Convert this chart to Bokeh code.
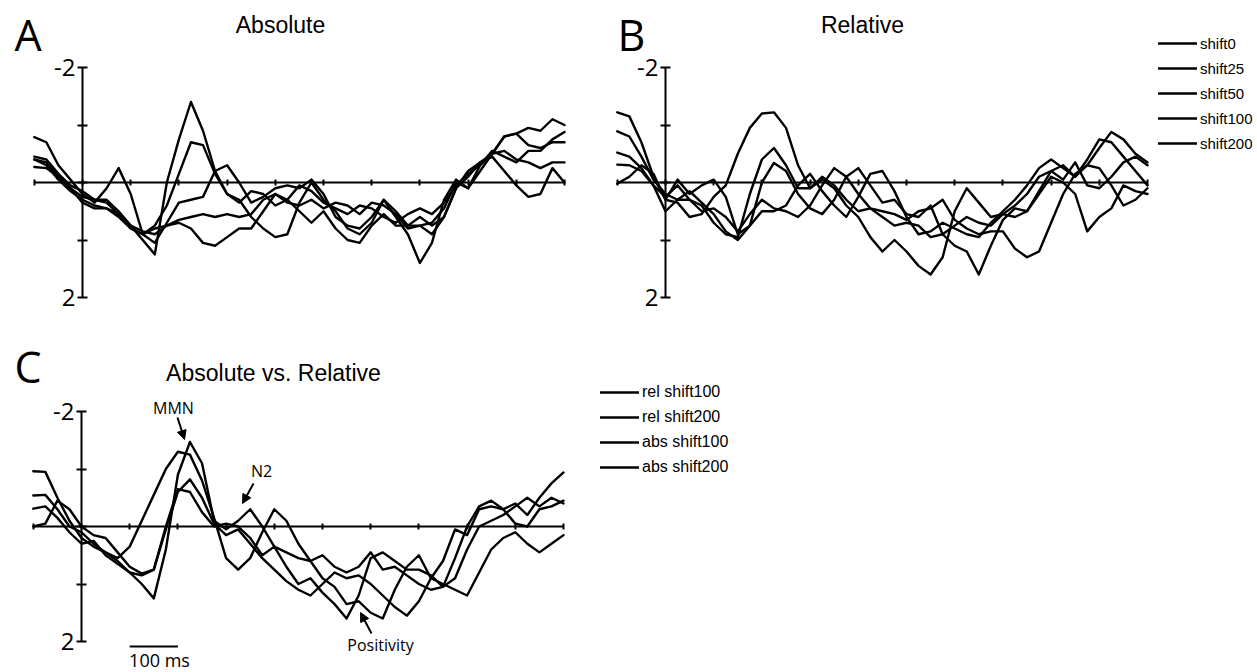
from bokeh.plotting import figure
from bokeh.models import (Range1d, LinearAxis, FixedTicker, Label, Arrow, NormalHead,
                          Legend, LegendItem, ColumnDataSource)
from bokeh.layouts import column, row
from bokeh.embed import file_html
from bokeh.resources import INLINE

# ---------------- data (µV, negative plotted upward) ----------------
time_ms = list(range(-100, 1001, 25))
time_ticks = list(range(-100, 1001, 100))
uv_ticks = [-2, -1, 0, 1, 2]

# Panel A: Absolute
abs_shift200 = [-0.45, -0.40, -0.15, 0.05, 0.15, 0.30, 0.30, 0.50, 0.75, 1.00,
                1.25, 0.00, -0.75, -1.40, -0.90, -0.20, 0.20, 0.30, 0.60, 0.80,
                0.95, 0.90, 0.35, 0.00, 0.30, 0.50, 0.80, 0.90, 0.70, 0.30,
                0.60, 0.90, 1.40, 1.05, 0.30, -0.05, 0.10, -0.30, -0.50, -0.80,
                -0.85, -0.95, -0.90, -1.10, -1.00]
abs_shift100 = [-0.27, -0.25, -0.10, 0.10, 0.25, 0.30, 0.35, 0.55, 0.80, 0.90,
                0.75, 0.40, -0.15, -0.70, -0.65, -0.15, 0.20, 0.35, 0.15, 0.20,
                0.40, 0.30, 0.05, 0.15, 0.35, 0.45, 0.55, 0.40, 0.45, 0.60,
                0.70, 0.55, 0.45, 0.55, 0.35, 0.05, -0.15, -0.30, -0.55, -0.45,
                -0.35, -0.55, -0.55, -0.75, -0.88]
abs_shift50 = [-0.79, -0.70, -0.30, -0.05, 0.20, 0.35, 0.10, -0.25, 0.20, 0.90,
               1.05, 0.70, 0.35, 0.30, 0.25, -0.20, -0.30, 0.00, 0.35, 0.25,
               0.10, 0.05, 0.10, -0.05, 0.20, 0.60, 0.75, 0.80, 0.60, 0.30,
               0.50, 0.75, 0.75, 0.90, 0.60, 0.10, -0.20, -0.35, -0.50, -0.80,
               -0.85, -0.65, -0.60, -0.70, -0.70]
abs_shift25 = [-0.40, -0.35, -0.10, 0.10, 0.35, 0.45, 0.45, 0.55, 0.75, 0.85,
               0.90, 0.75, 0.65, 0.60, 0.55, 0.60, 0.55, 0.60, 0.55, 0.30,
               0.20, 0.35, 0.40, 0.30, 0.45, 0.35, 0.40, 0.55, 0.35, 0.40,
               0.55, 0.80, 0.75, 0.70, 0.45, 0.00, 0.10, -0.20, -0.50, -0.55,
               -0.40, -0.35, -0.25, -0.35, -0.35]
abs_shift0 = [-0.40, -0.30, -0.05, 0.15, 0.30, 0.40, 0.45, 0.60, 0.80, 0.90,
              0.80, 0.75, 0.70, 0.80, 1.05, 1.10, 0.95, 0.80, 0.80, 0.50,
              0.20, 0.30, 0.50, 0.70, 0.50, 0.80, 1.00, 1.05, 0.75, 0.55,
              0.75, 0.75, 0.60, 0.75, 0.60, 0.10, -0.10, -0.35, -0.45, -0.20,
              0.05, 0.25, 0.20, -0.25, 0.00]

# Panel B: Relative
rel_shift200 = [-1.22, -1.15, -0.70, -0.10, 0.30, 0.35, 0.60, 0.55, 0.25, 0.05,
                -0.50, -0.95, -1.20, -1.22, -0.95, -0.30, 0.10, -0.05, 0.10, 0.40,
                0.60, 0.95, 1.20, 1.00, 1.20, 1.45, 1.60, 1.30, 0.50, 0.10,
                0.35, 0.60, 0.55, 0.60, 0.50, 0.15, -0.20, -0.30, -0.10, -0.30,
                -0.60, -0.88, -0.75, -0.50, -0.35]
rel_shift100 = [-0.89, -0.80, -0.45, -0.05, 0.20, 0.30, 0.30, 0.40, 0.70, 0.90,
                0.95, 0.20, -0.40, -0.60, -0.30, 0.10, 0.10, -0.10, 0.05, 0.30,
                0.50, 0.45, 0.60, 0.75, 0.70, 0.75, 0.95, 0.90, 0.75, 0.60,
                0.70, 0.75, 0.55, 0.40, 0.20, -0.10, -0.20, -0.05, -0.35, 0.05,
                0.10, -0.10, -0.35, -0.45, -0.30]
rel_shift50 = [-0.52, -0.45, -0.25, 0.05, 0.50, 0.30, 0.15, 0.35, 0.55, 0.85,
               1.00, 0.75, 0.00, -0.34, -0.20, 0.20, 0.45, 0.55, 0.30, -0.10,
               -0.25, 0.05, 0.35, 0.30, 0.55, 0.60, 0.40, 0.90, 1.10, 1.20,
               1.60, 1.10, 0.65, 0.45, 0.50, 0.20, -0.10, 0.00, 0.20, 0.85,
               0.60, 0.45, 0.05, 0.15, 0.20]
rel_shift25 = [-0.31, -0.30, -0.20, 0.05, 0.25, 0.05, 0.30, 0.50, 0.45, 0.60,
               0.85, 0.55, 0.30, 0.45, 0.50, 0.60, 0.40, 0.05, -0.25, -0.10,
               0.20, 0.45, 0.50, 0.55, 0.65, 0.50, 0.45, 0.30, 0.65, 0.80,
               0.90, 0.85, 0.85, 1.15, 1.30, 1.20, 0.70, 0.20, -0.15, -0.30,
               -0.25, 0.05, 0.40, 0.30, 0.10]
rel_shift0 = [0.02, -0.10, -0.30, -0.15, 0.30, -0.05, 0.20, 0.05, -0.05, 0.25,
              0.90, 0.75, 0.50, 0.50, 0.40, 0.05, -0.15, 0.15, 0.40, 0.60,
              0.25, -0.15, -0.20, 0.15, 0.60, 0.90, 0.85, 0.70, 0.80, 0.90,
              0.95, 0.70, 0.50, 0.30, 0.05, -0.25, -0.40, -0.25, -0.10, -0.40,
              -0.75, -0.70, -0.45, -0.20, 0.05]

# Panel C: Absolute vs. Relative
c_rel_shift200 = [-0.96, -0.95, -0.50, -0.10, 0.20, 0.35, 0.45, 0.55, 0.35, -0.10,
                  -0.55, -1.00, -1.30, -1.25, -0.80, -0.15, 0.55, 0.75, 0.55, 0.10,
                  -0.30, -0.10, 0.30, 0.60, 0.90, 1.05, 1.35, 1.30, 1.50, 1.60,
                  1.10, 0.70, 0.50, 0.90, 1.00, 1.10, 1.20, 0.80, 0.40, 0.20,
                  0.10, 0.30, 0.45, 0.30, 0.15]
c_abs_shift200 = [-0.54, -0.55, -0.30, 0.00, 0.10, 0.30, 0.45, 0.60, 0.80, 1.00,
                  1.25, 0.40, -0.90, -1.47, -1.10, -0.10, 0.05, -0.10, -0.30, 0.00,
                  0.35, 0.70, 1.00, 0.90, 1.15, 1.35, 1.60, 1.20, 0.55, 0.45,
                  0.60, 0.75, 0.75, 0.85, 1.05, 0.90, 0.40, 0.00, -0.10, -0.20,
                  -0.35, -0.50, -0.35, -0.50, -0.40]
c_abs_shift100 = [-0.31, -0.35, -0.15, 0.10, 0.30, 0.25, 0.50, 0.65, 0.80, 0.85,
                  0.75, 0.05, -0.60, -0.82, -0.50, -0.05, 0.15, 0.05, 0.30, 0.55,
                  0.75, 0.95, 1.10, 1.20, 1.00, 0.80, 0.90, 0.85, 1.00, 1.20,
                  1.40, 1.55, 1.30, 0.90, 0.60, 0.05, 0.15, -0.30, -0.35, -0.30,
                  -0.40, -0.20, -0.50, -0.75, -0.94]
c_rel_shift100 = [0.00, -0.05, -0.45, -0.30, 0.00, 0.15, 0.20, 0.45, 0.70, 0.82,
                  0.75, 0.00, -0.65, -0.60, -0.25, 0.00, -0.05, 0.00, 0.20, 0.50,
                  0.35, 0.45, 0.55, 0.60, 0.50, 0.70, 0.80, 0.70, 0.45, 0.75,
                  0.70, 0.85, 1.00, 1.10, 1.05, 0.55, 0.00, -0.35, -0.45, -0.30,
                  -0.05, 0.00, -0.30, -0.35, -0.45]

legend_b_labels = ["shift0", "shift25", "shift50", "shift100", "shift200"]
legend_c_labels = ["rel shift100", "rel shift200", "abs shift100", "abs shift200"]
scale_bar_ms = [100, 200]

# ---------------- layout constants ----------------
PX_MS = 0.482   # pixels per ms
PX_UV = 57.5    # pixels per µV
LW = 2.4
BASE_K = 0.44   # anchor offset (em) so that a label's baseline lands on target
TOP_H = 330     # height of the A/B row


class Panel:
    """x0/y0: page pixel of (0 ms, 0 µV); ox/oy: page offset of the figure."""
    def __init__(self, width, height, ox, oy, x0, y0):
        self.ox, self.oy = ox, oy
        self.x0, self.y0 = x0 - ox, y0 - oy
        p = figure(width=width, height=height, output_backend="svg", toolbar_location=None,
                   x_axis_location=None, y_axis_location=None, min_border=0,
                   x_range=Range1d(-self.x0 / PX_MS, (width - self.x0) / PX_MS),
                   y_range=Range1d((height - self.y0) / PX_UV, -self.y0 / PX_UV),
                   outline_line_color=None, background_fill_color="white",
                   border_fill_color="white")
        p.grid.visible = False
        xa = LinearAxis(fixed_location=0, bounds=(-100, 1000),
                        ticker=FixedTicker(ticks=time_ticks),
                        major_label_overrides={t: "" for t in time_ticks},
                        major_label_text_font_size="1px",
                        axis_line_width=2, major_tick_line_width=2,
                        major_tick_in=3, major_tick_out=3)
        p.add_layout(xa, "below")
        ya = LinearAxis(fixed_location=0, bounds=(-2, 2),
                        ticker=FixedTicker(ticks=uv_ticks),
                        major_label_overrides={-2: "-2", -1: "", 0: "", 1: "", 2: "2"},
                        axis_line_width=2, major_tick_line_width=2,
                        major_tick_in=5, major_tick_out=5,
                        major_label_standoff=2,
                        major_label_text_font="Open Sans",
                        major_label_text_font_size="24px",
                        major_label_text_color="black")
        p.add_layout(ya, "left")
        self.p = p

    def dx(self, px):
        return (px - self.ox - self.x0) / PX_MS

    def dy(self, py):
        return (py - self.oy - self.y0) / PX_UV

    def text(self, px, py_base, txt, font, size_px, align="left"):
        py = py_base - BASE_K * size_px
        self.p.add_layout(Label(x=self.dx(px), y=self.dy(py), text=txt, text_font=font,
                                text_font_size=f"{size_px}px", text_align=align,
                                text_baseline="alphabetic", text_color="black"))

    def arrow(self, sx, sy, ex, ey):
        self.p.add_layout(Arrow(end=NormalHead(size=9, fill_color="black", line_color="black"),
                                x_start=self.dx(sx), y_start=self.dy(sy),
                                x_end=self.dx(ex), y_end=self.dy(ey),
                                line_width=2, line_color="black"))


def make_legend(items, loc, size):
    return Legend(items=items, location=loc, orientation="vertical",
                  glyph_width=39, glyph_height=20, label_height=20, spacing=5,
                  padding=5, margin=0, label_standoff=3,
                  border_line_color=None, background_fill_alpha=0,
                  label_text_font="Liberation Sans", label_text_font_size=size,
                  label_text_color="black")


def draw_lines(panel, src, cols):
    return {c: panel.p.line("t", c, source=src, line_color="black", line_width=LW,
                            line_join="round", line_cap="round") for c in cols}


# ---------------- Panel A ----------------
A = Panel(600, TOP_H, 0, 0, 82, 182)
src_a = ColumnDataSource(dict(t=time_ms, s200=abs_shift200, s100=abs_shift100,
                              s50=abs_shift50, s25=abs_shift25, s0=abs_shift0))
draw_lines(A, src_a, ["s0", "s25", "s50", "s100", "s200"])
A.text(14, 53, "A", "Open Sans", 43)
A.text(280, 35, "Absolute", "Liberation Sans", 23, "center")

# ---------------- Panel B ----------------
B = Panel(657, TOP_H, 600, 0, 665, 182)
src_b = ColumnDataSource(dict(t=time_ms, s200=rel_shift200, s100=rel_shift100,
                              s50=rel_shift50, s25=rel_shift25, s0=rel_shift0))
rb = draw_lines(B, src_b, ["s0", "s25", "s50", "s100", "s200"])
B.text(617, 53, "B", "Open Sans", 43)
B.text(862, 35, "Relative", "Liberation Sans", 23, "center")
leg_b = make_legend([LegendItem(label=lab, renderers=[rb[c]])
                     for lab, c in zip(legend_b_labels, ["s0", "s25", "s50", "s100", "s200"])],
                    (558, TOP_H - 153), "15px")
B.p.add_layout(leg_b)

# ---------------- Panel C ----------------
C_H = 672 - TOP_H
C = Panel(1257, C_H, 0, TOP_H, 81, 526)
src_c = ColumnDataSource(dict(t=time_ms, rel100=c_rel_shift100, rel200=c_rel_shift200,
                              abs100=c_abs_shift100, abs200=c_abs_shift200))
rc = draw_lines(C, src_c, ["rel100", "rel200", "abs100", "abs200"])
C.text(14, 385, "C", "Open Sans", 43)
C.text(273, 383, "Absolute vs. Relative", "Liberation Sans", 23, "center")
C.text(173, 415, "MMN", "Open Sans", 16, "center")
C.text(261, 478, "N2", "Open Sans", 16, "center")
C.text(380, 652, "Positivity", "Open Sans", 16, "center")
C.text(159, 667, "100 ms", "Open Sans", 18, "center")
C.arrow(177, 417, 184, 439)
C.arrow(253, 483, 242, 503)
C.arrow(371, 633, 360, 612)
C.p.segment(x0=[scale_bar_ms[0]], x1=[scale_bar_ms[1]], y0=[C.dy(646)], y1=[C.dy(646)],
            line_color="black", line_width=2)
leg_c = make_legend([LegendItem(label=lab, renderers=[rc[c]])
                     for lab, c in zip(legend_c_labels, ["rel100", "rel200", "abs100", "abs200"])],
                    (600, 195), "16px")
C.p.add_layout(leg_c)

layout = column(row(A.p, B.p), C.p)
open("out.html", "w").write(file_html(layout, INLINE))
